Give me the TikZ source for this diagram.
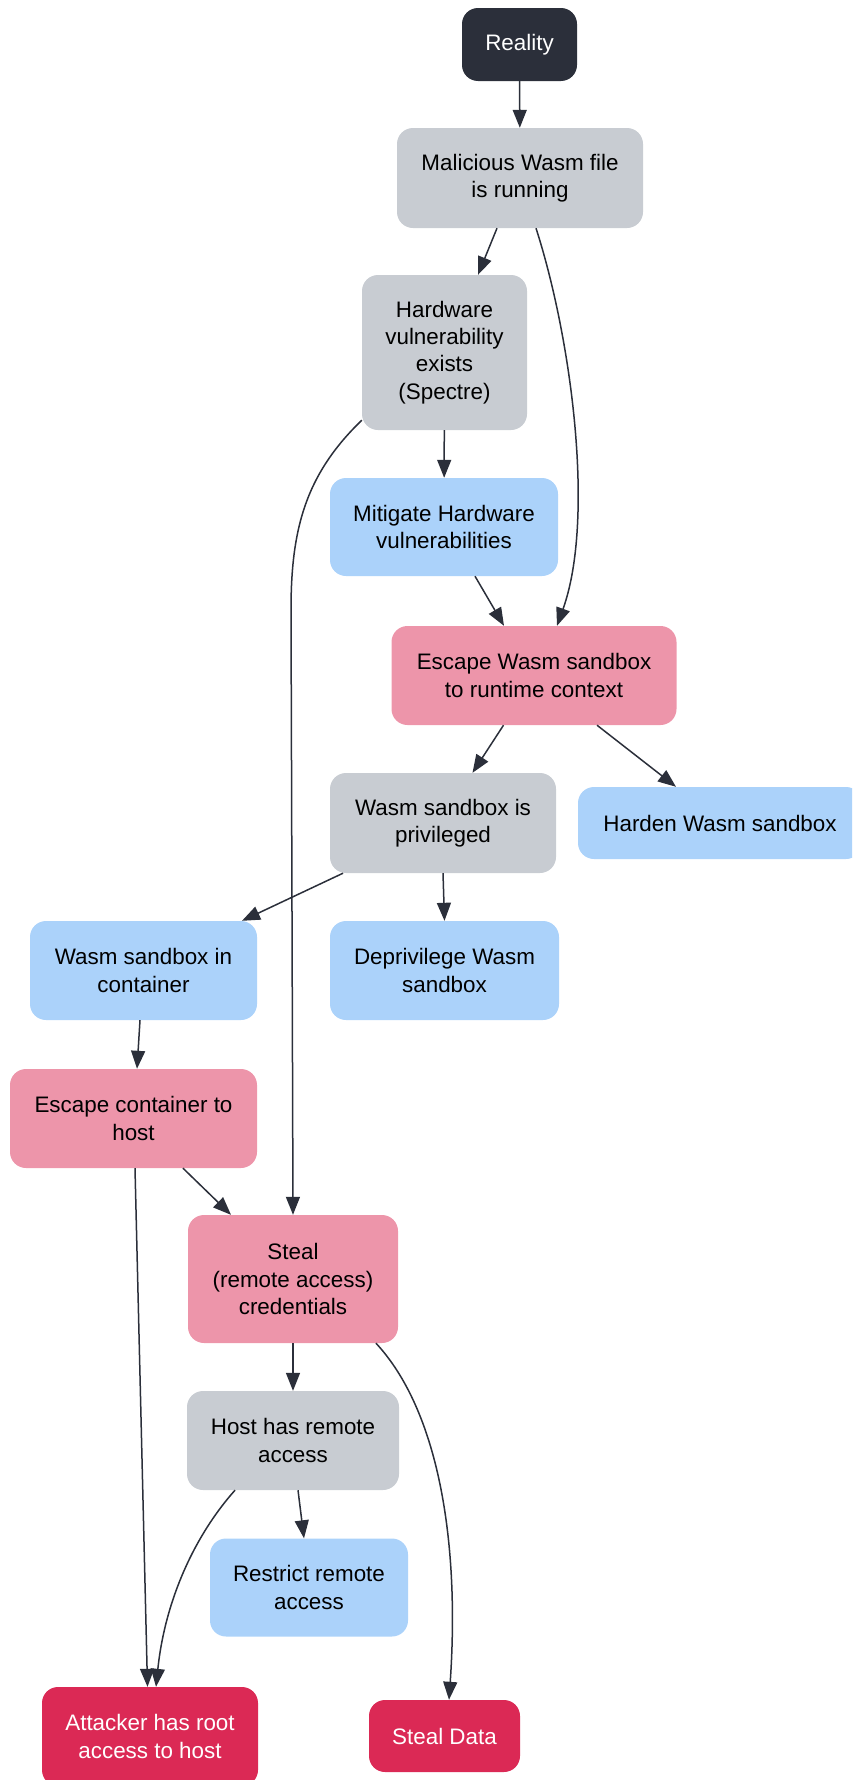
\documentclass[tikz,border=0pt]{standalone}
\usepackage{fontspec}
\setmainfont{Liberation Sans}
\usetikzlibrary{arrows.meta}

\definecolor{darkbg}{HTML}{2B2F3A}
\definecolor{greybg}{HTML}{C8CCD2}
\definecolor{bluebg}{HTML}{ABD2FA}
\definecolor{pinkbg}{HTML}{ED95AA}
\definecolor{redbg}{HTML}{DB2955}

\tikzset{
  box/.style={rounded corners=16pt, align=center, inner sep=0pt,
    font=\fontsize{22.4}{27.3}\selectfont},
  sz/.style 2 args={minimum width=#1pt, minimum height=#2pt},
  start/.style={box, fill=darkbg, text=white},
  fact/.style={box, fill=greybg},
  fix/.style={box, fill=bluebg},
  attack/.style={box, fill=pinkbg},
  goal/.style={box, fill=redbg, text=white},
  edge/.style={draw=darkbg, line width=1.5pt, -{Triangle[length=18pt,width=14pt]}},
}

\begin{document}
\begin{tikzpicture}[x=1pt, y=-1pt]
            \clip (0,0) rectangle (852,1780);
            % Nodes with manual coordinates
            \node[start, sz={115}{73}] (real) at (519.5,44.5) {Reality};
            \node[fact, sz={246}{100}] (mal) at (520,178) {Malicious Wasm file\\is running};
            \node[fact, sz={165}{155}] (hw) at (444.5,352.5) {Hardware\\vulnerability\\exists\\(Spectre)};
            \node[fix, sz={228}{98}] (mit) at (444,527) {Mitigate Hardware\\vulnerabilities};
            \node[attack, sz={285}{99}] (escw) at (534,675.5) {Escape Wasm sandbox\\to runtime context};
            \node[fact, sz={226}{100}] (priv) at (443,823) {Wasm sandbox is\\privileged};
            \node[fix, sz={284}{72}] (hard) at (720,823) {Harden Wasm sandbox};
            \node[fix, sz={227}{99}] (cont) at (143.5,970.5) {Wasm sandbox in\\container};
            \node[fix, sz={229}{99}] (depr) at (444.5,970.5) {Deprivilege Wasm\\sandbox};
            \node[attack, sz={247}{99}] (escc) at (133.5,1118.5) {Escape container to\\host};
            \node[attack, sz={210}{128}] (steal) at (293,1279) {Steal\\(remote access)\\credentials};
            \node[fact, sz={212}{99}] (host) at (293,1440.5) {Host has remote\\access};
            \node[fix, sz={198}{98}] (restr) at (309,1587.5) {Restrict remote\\access};
            \node[goal, sz={216}{99}] (root) at (150,1736.5) {Attacker has root\\access to host};
            \node[goal, sz={151}{72}] (data) at (444.5,1736) {Steal Data};

            % Edges
            \draw[edge] (real) -- (mal);
            \draw[edge] ([xshift=-23pt]mal.south) -- ([xshift=33.5pt]hw.north);
            \draw[edge] ([xshift=16pt]mal.south) .. controls (572,340) and (595,520) .. ([xshift=23pt]escw.north);
            \draw[edge] (hw) -- (mit);
            \draw[edge] ([xshift=31pt]mit.south) -- ([xshift=-30pt]escw.north);
            \draw[edge] ([yshift=10pt]hw.south west) .. controls (305,475) and (291,530) .. (291,610) -- (steal.north);
            \draw[edge] ([xshift=-30.5pt]escw.south) -- ([xshift=29.5pt]priv.north);
            \draw[edge] ([xshift=63pt]escw.south) -- ([xshift=-44pt]hard.north);
            \draw[edge] (priv.south) -- (depr.north);
            \draw[edge] ([xshift=-100pt]priv.south) -- ([xshift=98.5pt]cont.north);
            \draw[edge] ([xshift=-3.5pt]cont.south) -- ([xshift=3.5pt]escc.north);
            \draw[edge] ([xshift=49.5pt]escc.south) -- ([xshift=-62pt]steal.north);
            \draw[edge] ([xshift=1.5pt]escc.south) -- ([xshift=-2.5pt]root.north);
            \draw[edge] (steal) -- (host);
            \draw[edge] ([xshift=5pt]host.south) -- ([xshift=-5pt]restr.north);
            \draw[edge] ([xshift=-58pt]host.south) .. controls (195,1535) and (165,1600) .. ([xshift=6pt]root.north);
            \draw[edge] ([xshift=83pt]steal.south) .. controls (438,1410) and (460,1540) .. ([xshift=4.5pt]data.north);
\end{tikzpicture}
\end{document}
